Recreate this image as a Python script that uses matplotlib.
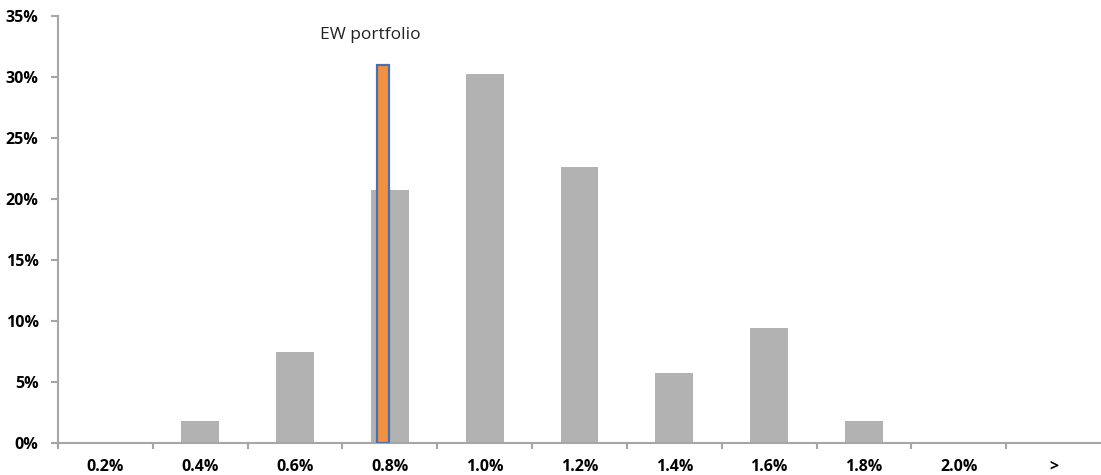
import matplotlib
matplotlib.use("Agg")
import matplotlib.pyplot as plt
from matplotlib.ticker import FixedLocator, FuncFormatter

categories = ["0.2%", "0.4%", "0.6%", "0.8%", "1.0%", "1.2%", "1.4%", "1.6%", "1.8%", "2.0%", ">"]
frequency = [0.0, 1.8, 7.5, 20.7, 30.2, 22.6, 5.75, 9.4, 1.8, 0.0, 0.0]
ew_category = "0.8%"
ew_value = 31.0
ew_label = "EW portfolio"
y_ticks = [0, 5, 10, 15, 20, 25, 30, 35]

plt.rcParams['font.family'] = ['Open Sans', 'DejaVu Sans']

fig = plt.figure(figsize=(11.01, 4.75), dpi=100)
ax = fig.add_axes([58/1101, 31.7/475, 1 - 58/1101, (459.3 - 31.7)/475])

x = list(range(len(categories)))
ax.bar(x, frequency, width=0.4, color="#B2B2B2", zorder=2)

ew_x = categories.index(ew_category)
ax.bar(ew_x - 0.07, ew_value, width=0.13, color="#F39140", edgecolor="#4A70AE",
       linewidth=1.6, zorder=3)
ax.text(ew_x - 0.21, 33.4, ew_label, ha="center", va="center", fontsize=12.5, color="#222222")

ax.set_xlim(-0.5, len(categories) - 0.5)
ax.set_ylim(0, 35)
ax.set_xticks(x)
ax.set_xticklabels(categories, fontweight="bold", fontsize=11.5)
ax.xaxis.set_minor_locator(FixedLocator([i - 0.5 for i in range(len(categories))]))
ax.tick_params(axis="x", which="major", length=0, pad=11)
ax.tick_params(axis="x", which="minor", length=4, width=1.5, color="#A6A6A6", direction="out")
ax.set_yticks(y_ticks)
ax.yaxis.set_major_formatter(FuncFormatter(lambda v, p: f"{int(v)}%"))
ax.tick_params(axis="y", length=5, width=1.5, color="#A6A6A6", pad=9, labelsize=11.5)
for lbl in ax.get_yticklabels():
    lbl.set_fontweight("bold")

for s in ["top", "right"]:
    ax.spines[s].set_visible(False)
for s in ["left", "bottom"]:
    ax.spines[s].set_color("#A6A6A6")
    ax.spines[s].set_linewidth(1.5)

fig.savefig("out.png", dpi=100)
